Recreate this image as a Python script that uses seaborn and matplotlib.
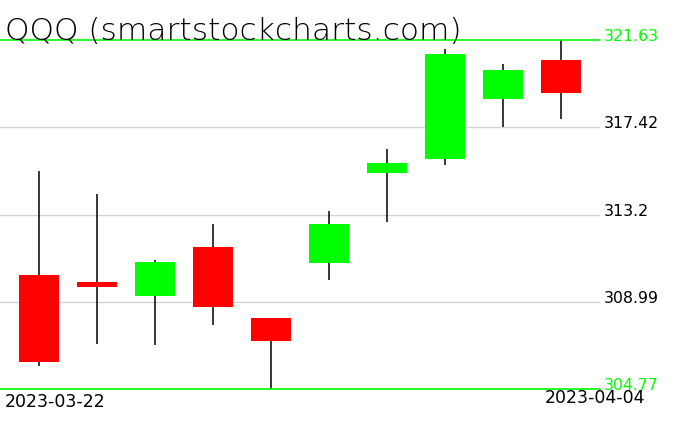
import matplotlib
matplotlib.use("Agg")
import matplotlib.pyplot as plt
import matplotlib.transforms as mtransforms
import numpy as np
import pandas as pd
import seaborn as sns

sns.set_style("white")
plt.rcParams['font.family'] = ['DejaVu Sans']

dates = ["2023-03-22", "2023-03-23", "2023-03-24", "2023-03-27", "2023-03-28",
         "2023-03-29", "2023-03-30", "2023-03-31", "2023-04-03", "2023-04-04"]
opens = [310.28, 309.94, 309.26, 311.63, 308.20, 310.86, 315.20, 315.90, 318.78, 320.66]
closes = [306.07, 309.70, 310.90, 308.73, 307.09, 312.74, 315.69, 320.95, 320.18, 319.08]
highs = [315.30, 314.19, 311.00, 312.74, 308.20, 313.37, 316.36, 321.20, 320.47, 321.63]
lows = [305.88, 306.94, 306.90, 307.86, 304.77, 310.04, 312.84, 315.61, 317.43, 317.83]
price_ticks = [321.63, 317.42, 313.2, 308.99, 304.77]
title = "QQQ (smartstockcharts.com)"

df = pd.DataFrame({"date": dates, "open": opens, "close": closes,
                   "high": highs, "low": lows})
df["pos"] = np.arange(len(df))
df["up"] = df["close"] >= df["open"]
df["bottom"] = df[["open", "close"]].min(axis=1)
df["height"] = (df["open"] - df["close"]).abs()
df["color"] = np.where(df["up"], "#00ff00", "#ff0000")

fig = plt.figure(figsize=(6.76, 4.31), dpi=100)
ax = fig.add_axes([0, 41 / 431, 600 / 676, 349 / 431])

# grid lines (inner) and green min/max lines
for p in price_ticks[1:-1]:
    ax.axhline(p, color="#d3d3d3", lw=1.0, zorder=0)
for p in (price_ticks[0], price_ticks[-1]):
    ax.axhline(p, color="#00ff00", lw=1.2, zorder=4, clip_on=False)

# wicks
ax.vlines(df["pos"], df["low"], df["high"], color="black", lw=1.1, zorder=1)
# bodies
ax.bar(df["pos"], df["height"], bottom=df["bottom"], width=0.69,
       color=df["color"], zorder=2, linewidth=0)

ax.set_xlim(-0.672, 9.672)
ax.set_ylim(price_ticks[-1], price_ticks[0])
ax.set_xticks([])
ax.set_yticks([])
sns.despine(ax=ax, left=True, bottom=True)

trans = mtransforms.blended_transform_factory(ax.transAxes, ax.transData)
for i, p in enumerate(price_ticks):
    col = "#00ff00" if i in (0, len(price_ticks) - 1) else "black"
    ax.text(1.0067, p, str(p), transform=trans, ha="left", va="baseline",
            fontsize=11.3, color=col, clip_on=False)

fig.text(5 / 676, 1 - 40 / 431, title, ha="left", va="baseline",
         fontsize=22.5, color="black", fontweight="light")
fig.text(5 / 676, 1 - 393 / 431, dates[0], ha="left", va="top",
         fontsize=12.5, color="black")
fig.text(645 / 676, 1 - 389 / 431, dates[-1], ha="right", va="top",
         fontsize=12.5, color="black")

fig.savefig("out.png", dpi=100, facecolor="white")
